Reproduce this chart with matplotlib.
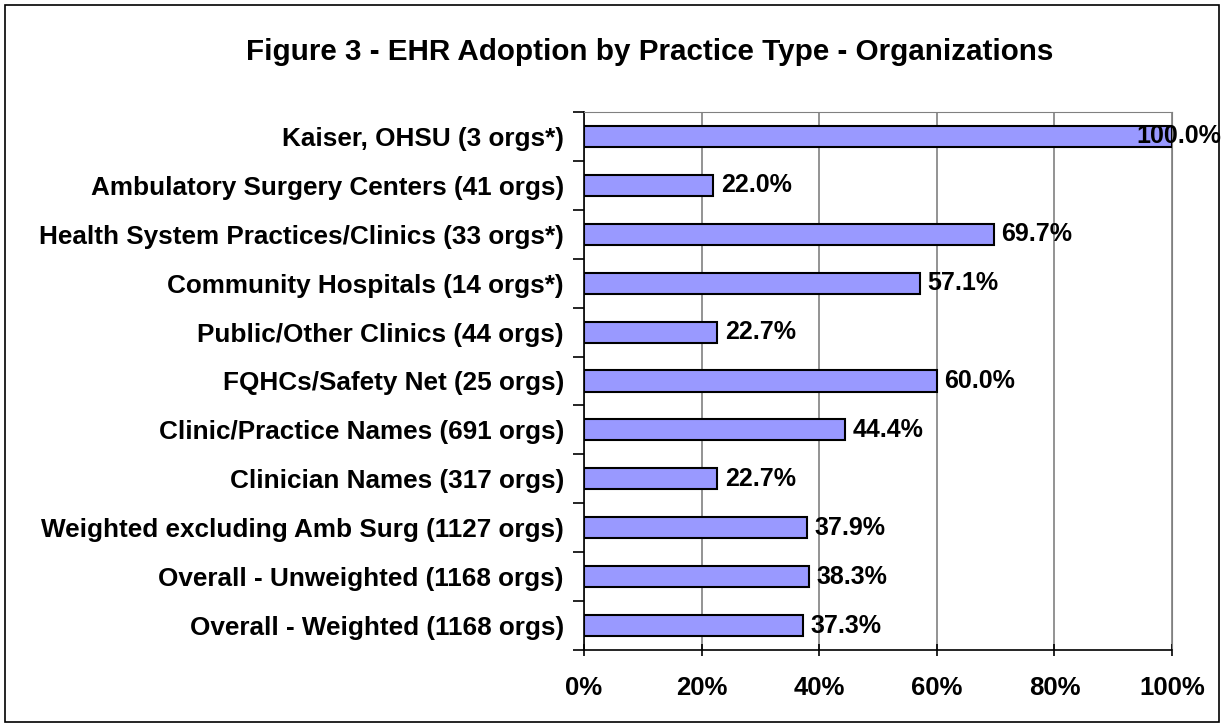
#!/usr/bin/env python3
import matplotlib.pyplot as plt
from matplotlib.patches import Rectangle
from matplotlib.ticker import FixedLocator, PercentFormatter

plt.rcParams['font.family'] = ['Liberation Sans', 'DejaVu Sans']
plt.rcParams['font.weight'] = 'bold'

categorias = [
    "Kaiser, OHSU (3 orgs*)",
    "Ambulatory Surgery Centers (41 orgs)",
    "Health System Practices/Clinics (33 orgs*)",
    "Community Hospitals (14 orgs*)",
    "Public/Other Clinics (44 orgs)",
    "FQHCs/Safety Net (25 orgs)",
    "Clinic/Practice Names (691 orgs)",
    "Clinician Names (317 orgs)",
    "Weighted excluding Amb Surg (1127 orgs)",
    "Overall - Unweighted (1168 orgs)",
    "Overall - Weighted (1168 orgs)",
]
valores = [100.0, 22.0, 69.7, 57.1, 22.7, 60.0, 44.4, 22.7, 37.9, 38.3, 37.3]
x_ticks = [0, 20, 40, 60, 80, 100]

fig = plt.figure(figsize=(12.24, 7.27), dpi=100)
# borde exterior
fig.patches.append(Rectangle((0.004, 0.007), 0.992, 0.986, transform=fig.transFigure,
                             fill=False, edgecolor='black', linewidth=1.2))

ax = fig.add_axes([584 / 1224, 1 - 650 / 727, (1172 - 584) / 1224, (650 - 112) / 727])
pos = list(range(len(categorias)))
ax.barh(pos, valores, height=0.43, color='#9999FF', edgecolor='black', linewidth=1.5, zorder=3)
ax.set_ylim(len(categorias) - 0.5, -0.5)
ax.set_xlim(0, 100)

ax.set_yticks(pos)
ax.set_yticklabels(categorias, fontsize=18.8, fontweight='bold')
ax.yaxis.set_minor_locator(FixedLocator([p - 0.5 for p in pos] + [len(pos) - 0.5]))
ax.tick_params(axis='y', which='major', length=0, pad=14.5)
ax.tick_params(axis='y', which='minor', length=8, width=1.2, direction='out')

ax.set_xticks(x_ticks)
ax.xaxis.set_major_formatter(PercentFormatter(decimals=0))
ax.tick_params(axis='x', length=8, width=1.2, direction='inout', pad=15, labelsize=18.5)
for lbl in ax.get_xticklabels():
    lbl.set_fontweight('bold')

ax.grid(axis='x', color='#808080', linewidth=1.2, zorder=0)
ax.spines['top'].set_color('#808080')
ax.spines['right'].set_color('#808080')
ax.spines['left'].set_linewidth(1.2)
ax.spines['bottom'].set_linewidth(1.2)

for p, v in zip(pos, valores):
    x = v + 1.3 if v < 95 else 94.0
    ax.text(x, p, f"{v:.1f}%", va='center', ha='left', fontsize=18, fontweight='bold',
            zorder=4, clip_on=False)

fig.text(650 / 1224, 1 - 52 / 727, "Figure 3 - EHR Adoption by Practice Type - Organizations",
         ha='center', va='center', fontsize=21.3, fontweight='bold')

fig.savefig("out.png", dpi=100)
